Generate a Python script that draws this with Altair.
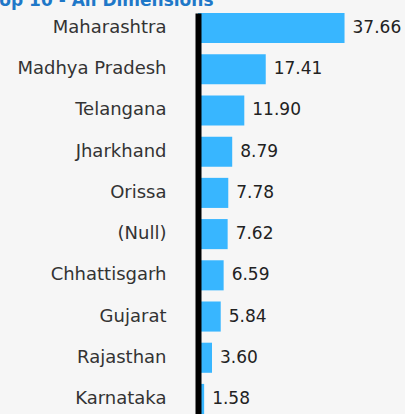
import altair as alt
import pandas as pd

states = ["Maharashtra", "Madhya Pradesh", "Telangana", "Jharkhand", "Orissa",
          "(Null)", "Chhattisgarh", "Gujarat", "Rajasthan", "Karnataka"]
values = [37.66, 17.41, 11.90, 8.79, 7.78, 7.62, 6.59, 5.84, 3.60, 1.58]

df = pd.DataFrame({"state": states, "value": values})

y = alt.Y("state:N", sort=states, title=None,
          scale=alt.Scale(paddingInner=0.27, paddingOuter=0),
          axis=alt.Axis(ticks=False, labelPadding=32, labelFont="DejaVu Sans",
                        labelFontSize=18, labelColor="#333333", domainColor="#000000",
                        domainWidth=6, zindex=1, labelLimit=300))
x = alt.X("value:Q", title=None, axis=None,
          scale=alt.Scale(domain=[0, 53.2], zero=True, nice=False))

base = alt.Chart(df)
bars = base.mark_bar(color="#38b6ff").encode(x=x, y=y)
labels = base.mark_text(align="left", baseline="middle", dx=8, font="DejaVu Sans",
                        fontSize=17, color="#222222").encode(
    x=x, y=y, text=alt.Text("value:Q", format=".2f"))

chart = (bars + labels).properties(
    width=207, height=401,
    background="#f6f6f6",
    padding={"left": 198, "top": 13, "right": 0, "bottom": 0},
    autosize=alt.AutoSizeParams(type="none"),
    title=alt.TitleParams("Top 10 - All Dimensions", anchor="start", frame="group",
                          orient="top", offset=0, dx=-208, dy=10, fontSize=17,
                          font="DejaVu Sans", fontWeight="bold", color="#1f78c8",
                          baseline="alphabetic"),
).configure_view(stroke=None)

chart.save("out.html", embed_options={"renderer": "svg", "actions": False})
